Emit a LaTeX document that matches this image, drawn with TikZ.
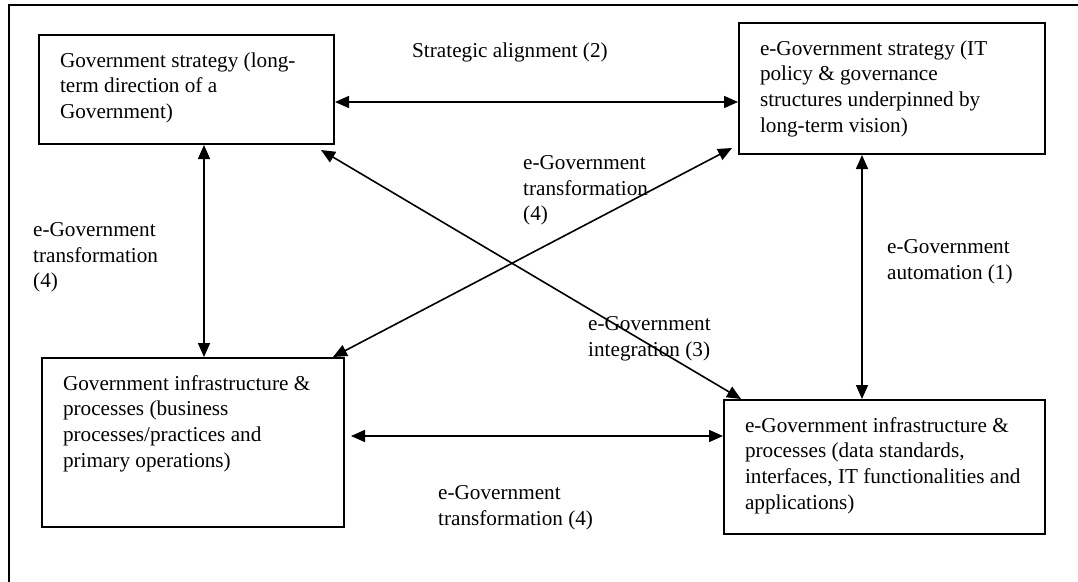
\documentclass[tikz,border=0pt]{standalone}
\usepackage{fontspec}
\setmainfont{Liberation Serif}
\usetikzlibrary{calc,positioning,arrows.meta}
\newcommand{\boxtext}[3]{\parbox[t][#2][t]{#1}{\raggedright\strut #3}}

\begin{document}
\begin{tikzpicture}[x=1pt, y=-1pt, font=\fontsize{21.2}{25.8}\selectfont,
    blk/.style={draw, line width=2pt, anchor=north west, inner xsep=21pt, inner ysep=14pt},
    lbl/.style={anchor=north west, inner sep=0pt, align=left},
    link/.style={{Triangle[length=14pt,width=12pt]}-{Triangle[length=14pt,width=12pt]}, line width=1.6pt}]
    \useasboundingbox (0,0) rectangle (1078,581);
    \draw[line width=2.2pt] (9,600) -- (9,5) -- (1100,5);

    \node[blk] (gs) at (38,34) {\boxtext{253pt}{81pt}{Government strategy (long-\\term direction of a\\Government)}};
    \node[blk] (es) at (738,22) {\boxtext{264pt}{103pt}{e-Government strategy (IT\\policy \& governance\\structures underpinned by\\long-term vision)}};
    \node[blk] (gi) at (41,357) {\boxtext{260pt}{141pt}{Government infrastructure \&\\processes (business\\processes/practices and\\primary operations)}};
    \node[blk] (ei) at (723,399) {\boxtext{279pt}{106pt}{e-Government infrastructure \&\\processes (data standards,\\interfaces, IT functionalities and\\applications)}};

    \node[lbl] (sa) at (412,39) {\strut Strategic alignment (2)};
    \node[lbl] (tl) at (33,218) {\strut e-Government\\transformation\\(4)};
    \node[lbl] (au) at (887,235) {\strut e-Government\\automation (1)};
    \node[lbl] (tm) at (523,151) {\strut e-Government\\transformation\\(4)};
    \node[lbl] (ig) at (588,312) {\strut e-Government\\integration (3)};
    \node[lbl] (tb) at (438,481) {\strut e-Government\\transformation (4)};

    \draw[link] (gs.east |- 0,102) -- (es.west |- 0,102);
    \draw[link] (gs.south -| 204,0) -- (gi.north -| 204,0);
    \draw[link] (es.south -| 862,0) -- (ei.north -| 862,0);
    \draw[link, shorten <=6pt] (gi.east |- 0,436) -- (ei.west |- 0,436);
    \draw[link] ([xshift=-14pt,yshift=-5pt]gs.south east) -- ([xshift=18pt]ei.north west);
    \draw[link] ([xshift=-12pt]gi.north east) -- ([xshift=-6pt,yshift=7pt]es.south west);
\end{tikzpicture}
\end{document}
